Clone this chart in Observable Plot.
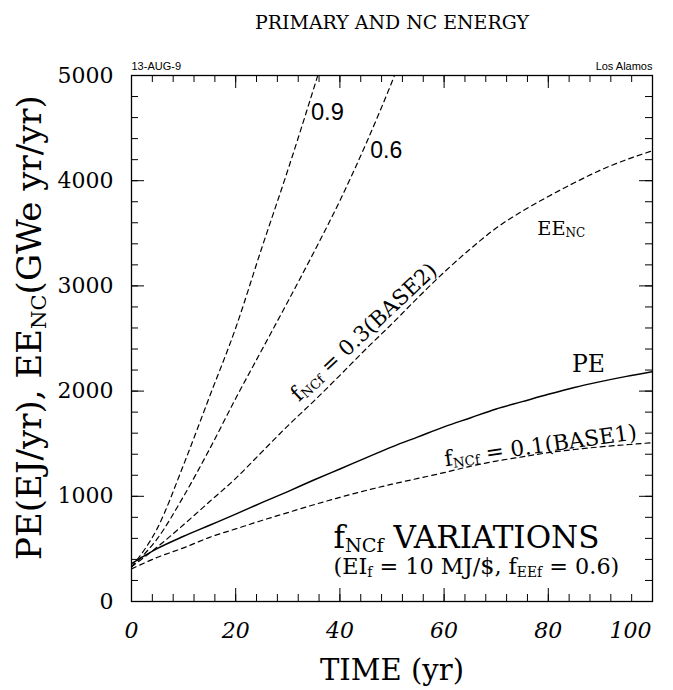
<!DOCTYPE html>
<html><head><meta charset="utf-8">
<script src="https://cdn.jsdelivr.net/npm/d3@7"></script>
<script src="https://cdn.jsdelivr.net/npm/@observablehq/plot@0.6"></script>
<style>body{margin:0;background:#fff}</style>
</head><body><div id="chart"></div>
<script>
// ---- data ----
const timeFull = [0,5,10,15,20,25,30,35,40,45,50,55,60,65,70,75,80,85,90,95,100];
const pe       = [360,505,620,725,830,940,1045,1155,1260,1365,1470,1565,1660,1745,1830,1900,1970,2035,2090,2140,2185];
const base1    = [310,420,510,610,690,770,845,920,990,1055,1115,1170,1225,1285,1335,1375,1415,1445,1470,1490,1510];
const base2    = [330,520,730,950,1170,1420,1670,1905,2150,2400,2640,2890,3130,3350,3550,3710,3850,3980,4100,4200,4285];
const time06   = [0,5,10,15,20,25,30,35,40,45,50,52];
const f06      = [330,600,1000,1450,1930,2390,2850,3320,3810,4350,4940,5190];
const time09   = [0,5,10,15,20,25,30,35,37];
const f09      = [330,700,1300,1950,2600,3360,4100,4880,5200];

const xLabels = [0,20,40,60,80];
const xLastLabel = [100];
const yLabels = [0,1000,2000,3000,4000,5000];
const xMinor = d3.range(0,101,4);
const xMajor = d3.range(0,101,20);
const yMinor = d3.range(0,5001,200);
const yMajor = d3.range(0,5001,1000);

const title = "PRIMARY AND NC ENERGY";
const xTitle = "TIME (yr)";
const yTitle = "PE(EJ/yr), EE_{NC}(GWe yr/yr)";
const stampLeft = "13-AUG-9";
const stampRight = "Los Alamos";

const labels = [
  {t:37.6, v:4650, text:"0.9", font:"Liberation Sans", size:23, rotate:0, w:33},
  {t:48.9, v:4290, text:"0.6", font:"Liberation Sans", size:23, rotate:0, w:32},
  {t:82.5, v:3546, text:"EE_{NC}", font:"DejaVu Serif", size:22, rotate:0, w:48},
  {t:87.7, v:2253, text:"PE", font:"DejaVu Serif", size:26, rotate:0, w:33},
  {t:78.5, v:1480, text:"f_{NCf} = 0.1(BASE1)", font:"DejaVu Serif", size:21, rotate:-8, w:194},
  {t:44.6, v:2560, text:"f_{NCf} = 0.3(BASE2)", font:"DejaVu Serif", size:21, rotate:-43, w:191},
  {t:64.3, v:600, text:"f_{NCf} VARIATIONS", font:"DejaVu Serif", size:31, rotate:0, w:266},
  {t:66.2, v:325, text:"(EI_{f} = 10 MJ/$, f_{EEf} = 0.6)", font:"DejaVu Serif", size:21, rotate:0, w:286}
];

// target text widths (px) measured on the reference, used to fit font sizes
const fitWidths = new Map([[title,274],[xTitle,144],[yTitle,465], ...labels.map(a=>[a.text,a.w])]);

// ---- tables ----
const toRows = (ts, vs) => ts.map((t,i)=>({t, v: vs[i]}));
const peRows = toRows(timeFull, pe);
const b1Rows = toRows(timeFull, base1);
const b2Rows = toRows(timeFull, base2);
const r06 = toRows(time06, f06);
const r09 = toRows(time09, f09);

const W = 673, H = 690, mL = 131, mR = 21, mT = 75, mB = 89;
const pw = W - mL - mR, ph = H - mT - mB;
const SERIF = "DejaVu Serif";
const dash = {stroke:"black", strokeWidth:1.2, strokeDasharray:"5,4", clip:true, curve:"monotone-x"};

const chart = Plot.plot({
  width: W, height: H,
  marginLeft: mL, marginRight: mR, marginTop: mT, marginBottom: mB,
  x: {domain:[0,100]},
  y: {domain:[0,5000]},
  style: {background:"white", color:"black", fontFamily: SERIF},
  marks: [
    Plot.frame({stroke:"black", strokeWidth:1.3}),
    // inward ticks
    Plot.tickX(xMinor, {x:d=>d, insetTop: ph-7, stroke:"black"}),
    Plot.tickX(xMajor, {x:d=>d, insetTop: ph-13, stroke:"black"}),
    Plot.tickX(xMinor, {x:d=>d, insetBottom: ph-7, stroke:"black"}),
    Plot.tickX(xMajor, {x:d=>d, insetBottom: ph-13, stroke:"black"}),
    Plot.tickY(yMinor, {y:d=>d, insetRight: pw-7, stroke:"black"}),
    Plot.tickY(yMajor, {y:d=>d, insetRight: pw-13, stroke:"black"}),
    Plot.tickY(yMinor, {y:d=>d, insetLeft: pw-7, stroke:"black"}),
    Plot.tickY(yMajor, {y:d=>d, insetLeft: pw-13, stroke:"black"}),
    // axes labels
    Plot.axisX({ticks: xLabels, tickSize:0, tickPadding:21, fontSize:22, fontStyle:"italic", fontFamily:SERIF, tickFormat:"d", label:null}),
    Plot.axisX({ticks: xLastLabel, tickSize:0, tickPadding:21, fontSize:22, fontStyle:"italic", fontFamily:SERIF, textAnchor:"end", dx:-1, tickFormat:"d", label:null}),
    Plot.axisY({ticks: yLabels, tickSize:0, tickPadding:18, fontSize:22, fontFamily:SERIF, tickFormat:"d", label:null}),
    // curves
    Plot.line(peRows, {x:"t", y:"v", stroke:"black", strokeWidth:1.5, clip:true, curve:"monotone-x"}),
    Plot.line(b1Rows, {x:"t", y:"v", ...dash}),
    Plot.line(b2Rows, {x:"t", y:"v", ...dash}),
    Plot.line(r06, {x:"t", y:"v", ...dash}),
    Plot.line(r09, {x:"t", y:"v", ...dash}),
    // annotations
    ...labels.map(a => Plot.text([a], {x:"t", y:"v", text:"text", rotate:a.rotate, fontSize:a.size, fontFamily:a.font, fill:"black", lineAnchor:"middle", textAnchor:"middle"})),
    // titles
    Plot.text([title], {frameAnchor:"top", dy:-53, lineAnchor:"middle", textAnchor:"middle", fontSize:21, fontFamily:SERIF, fill:"black"}),
    Plot.text([stampLeft], {frameAnchor:"top-left", dy:-9, lineAnchor:"middle", textAnchor:"start", fontSize:11, fontFamily:"Liberation Sans", fill:"black"}),
    Plot.text([stampRight], {frameAnchor:"top-right", dy:-9, lineAnchor:"middle", textAnchor:"end", fontSize:11, fontFamily:"Liberation Sans", fill:"black"}),
    Plot.text([xTitle], {frameAnchor:"bottom", dy:69, lineAnchor:"middle", textAnchor:"middle", fontSize:26, fontFamily:SERIF, fill:"black"}),
    Plot.text([yTitle], {frameAnchor:"left", dx:-101, dy:-11, lineAnchor:"middle", textAnchor:"middle", rotate:-90, fontSize:22, fontFamily:SERIF, fill:"black"})
  ]
});
document.getElementById("chart").appendChild(chart);

// subscripts ("_{...}") as small lowered tspans, then fit font sizes to reference widths
d3.select(chart).selectAll("text").each(function(){
  const s = this.textContent;
  if (s.includes("_{")) {
    const parts = []; const re = /_\{([^}]*)\}/g; let last = 0, m;
    while ((m = re.exec(s))) { if (m.index > last) parts.push({t:s.slice(last, m.index)}); parts.push({t:m[1], sub:true}); last = re.lastIndex; }
    if (last < s.length) parts.push({t:s.slice(last)});
    const el = d3.select(this); el.text(null);
    let down = false;
    for (const p of parts) {
      const ts = el.append("tspan").text(p.t);
      if (p.sub) { ts.attr("font-size", "62%"); if (!down) { ts.attr("dy", "0.2em"); down = true; } }
      else if (down) { ts.attr("dy", "-0.124em"); down = false; }
    }
  }
  if (fitWidths.has(s)) {
    const len = this.getComputedTextLength();
    const fs = parseFloat(getComputedStyle(this).fontSize);
    if (len > 0 && fs > 0) d3.select(this).attr("font-size", (fs * fitWidths.get(s) / len).toFixed(2));
  }
});
</script>
</body></html>
